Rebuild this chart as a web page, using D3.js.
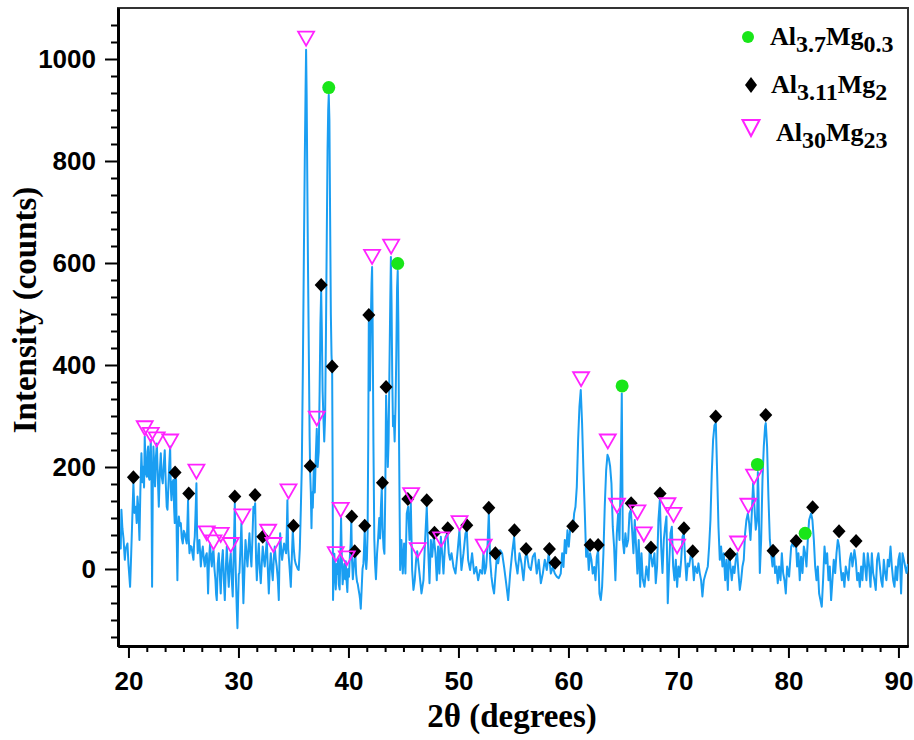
<!DOCTYPE html>
<html>
<head>
<meta charset="utf-8">
<script src="https://cdn.jsdelivr.net/npm/d3@7"></script>
<style>
  body { margin: 0; background: #fff; }
  svg { display: block; }
</style>
</head>
<body>
<svg id="chart" width="914" height="740"></svg>
<script>
// XRD scan, [2θ (deg), intensity (counts)]
const scanLow = [
  [19.05,-30],[19.1,20],[19.2,60],[19.3,40],[19.36,116],[19.45,80],[19.55,60],[19.67,18],[19.75,40],[19.91,50],[20.0,10],[20.15,-35],[20.25,30],[20.35,100],[20.45,168],[20.55,110],[20.67,122],[20.75,90],[20.82,142],[20.9,120],[21.0,57],[21.08,150],[21.18,227],[21.27,170],[21.36,201],[21.42,160],[21.48,260],[21.57,190],[21.67,181],[21.73,230],[21.79,240],[21.85,180],[21.91,175],[21.97,220],[22.03,253],[22.09,180],[22.15,-35],[22.21,150],[22.27,240],[22.35,200],[22.42,162],[22.5,220],[22.58,246],[22.67,180],[22.76,122],[22.85,190],[22.94,227],[23.03,180],[23.12,168],[23.2,200],[23.3,233],[23.39,170],[23.48,122],[23.55,116],[23.61,150],[23.7,200],[23.79,240],[23.85,160],[23.91,135],[24.0,170],[24.09,175],[24.15,120],[24.21,90],[24.27,180],[24.33,175],[24.39,60],[24.45,-22],[24.52,80],[24.58,103],[24.67,85],[24.76,90],[24.85,60],[24.94,50],[25.03,75],[25.12,70],[25.2,60],[25.3,50],[25.36,90],[25.42,135],[25.48,60],[25.55,31],[25.64,45],[25.73,44],[25.82,30],[25.91,18],[25.97,50],[26.03,63],[26.1,110],[26.18,168],[26.24,70],[26.3,31],[26.38,50],[26.45,57],[26.52,30],[26.58,5],[26.67,30],[26.76,44],[26.85,20],[26.94,5],[27.03,25],[27.12,31],[27.18,0],[27.24,-48],[27.33,20],[27.42,50],[27.5,20],[27.58,5],[27.65,30],[27.73,37],[27.82,0],[27.91,-22],[27.97,-50],[28.03,-61],[28.12,10],[28.21,31],[28.3,-10],[28.39,-48],[28.48,10],[28.58,37],[28.67,-20],[28.76,-61],[28.85,0],[28.94,44],[29.03,0],[29.12,-35],[29.21,10],[29.3,31],[29.39,-20],[29.48,-54],[29.57,30],[29.67,129],[29.73,20],[29.79,-35],[29.85,-80],[29.91,-116],[29.97,-60],[30.03,-10],[30.09,-8],[30.18,40],[30.27,90],[30.36,10],[30.45,-67],[30.55,0],[30.64,57],[30.73,30],[30.82,5],[30.91,40],[31.0,70],[31.09,30],[31.18,5],[31.27,60],[31.36,122],[31.44,110],[31.52,129],[31.6,20],[31.67,-22],[31.76,20],[31.85,50],[31.94,0],[32.03,-28],[32.12,10],[32.21,44],[32.3,20],[32.39,5],[32.48,30],[32.58,57],[32.67,0],[32.76,-48],[32.85,0],[32.94,31],[33.03,0],[33.12,-22],[33.21,20],[33.3,44],[33.39,20],[33.48,5],[33.58,-20],[33.67,-61],[33.73,20],[33.79,70],[33.88,40],[33.97,18],[34.06,35],[34.15,50],[34.24,40],[34.33,31],[34.4,80],[34.45,135],[34.52,40],[34.64,5],[34.76,-35],[34.85,20],[34.94,76],[35.03,40],[35.12,18],[35.21,10],[35.3,5],[35.39,0],[35.48,-2],[35.58,40],[35.67,116]
];
const scanMid = [
  [35.76,200],[35.85,380],[35.95,620],[36.03,800],[36.1,935],[36.15,1018],[36.2,930],[36.26,760],[36.32,600],[36.4,420],[36.47,260],[36.52,190],[36.58,150],[36.64,80],[36.7,150],[36.76,120],[36.85,200],[36.94,150],[37.03,220],[37.12,275],[37.2,200],[37.3,230],[37.38,350],[37.45,480],[37.52,545],[37.58,470],[37.65,350],[37.72,300],[37.8,250],[37.88,300],[37.95,450],[38.03,650],[38.1,820],[38.16,900],[38.21,930],[38.27,880],[38.33,700],[38.4,500],[38.46,420],[38.52,385],[38.56,200],[38.6,-61],[38.66,0],[38.72,30],[38.8,-20],[38.85,-40],[38.92,10],[39.0,-10],[39.06,20],[39.12,-30],[39.2,-40],[39.27,30],[39.33,100],[39.4,20],[39.47,-30],[39.55,-10],[39.62,10],[39.7,-20],[39.76,15],[39.82,-20],[39.9,-45],[39.97,0],[40.05,-15],[40.12,20],[40.2,50],[40.26,98],[40.32,20],[40.4,-20],[40.47,0],[40.55,20],[40.62,35],[40.7,-10],[40.78,-25],[40.85,-30],[40.92,-40],[41.0,-50],[41.06,-60],[41.12,-78],[41.2,-40],[41.28,0],[41.36,10],[41.42,40],[41.48,78],[41.55,20],[41.62,0],[41.68,20],[41.74,70],[41.8,250],[41.85,485],[41.9,400],[41.96,350],[42.03,480],[42.1,560],[42.15,592],[42.2,480],[42.27,250],[42.35,60],[42.42,10],[42.5,-20],[42.6,30],[42.7,60],[42.8,100],[42.88,60],[42.95,120],[43.03,160],[43.1,80],[43.2,40],[43.27,30],[43.35,150],[43.42,340],[43.5,280],[43.58,200],[43.65,250],[43.72,380],[43.8,520],[43.86,612],[43.92,520],[43.98,380],[44.05,280],[44.12,300],[44.2,250],[44.28,320],[44.35,420],[44.42,550],[44.48,585],[44.54,480],[44.6,250],[44.66,100],[44.7,-2],[44.82,57],[44.94,-9],[45.06,50],[45.18,-9],[45.3,109],[45.43,122],[45.55,57],[45.67,129],[45.79,-2],[45.91,-41],[46.03,-22],[46.15,18],[46.25,35],[46.33,18],[46.46,-9],[46.64,-48],[46.82,-22],[46.97,57],[47.12,122],[47.24,44],[47.37,-28],[47.49,57],[47.61,24],[47.76,63],[47.91,31],[48.03,-22],[48.15,44],[48.27,-9],[48.4,63],[48.52,31],[48.64,-9],[48.82,63],[49.0,70],[49.12,31],[49.24,18],[49.37,31],[49.55,4],[49.73,-9],[49.91,31],[50.09,76],[50.27,-2],[50.46,31],[50.64,70],[50.76,76],[50.88,18],[51.06,-2],[51.24,31],[51.43,-9],[51.61,4],[51.79,-22],[51.97,-2],[52.15,-9],[52.27,31],[52.4,-9],[52.52,4],[52.64,44],[52.76,109],[52.88,18],[53.0,-15],[53.12,-35],[53.24,-48],[53.37,-9],[53.49,24],[53.61,11],[53.79,37],[53.97,31],[54.15,4],[54.34,-28],[54.52,-61],[54.7,-9],[54.88,31],[55.06,63],[55.18,18],[55.37,-9],[55.55,31],[55.73,11],[55.91,-22],[56.09,24],[56.21,31],[56.4,4],[56.58,-2],[56.76,24],[56.94,31],[57.12,-9],[57.3,18],[57.49,-28],[57.67,-9],[57.85,18],[58.03,-2],[58.21,31],[58.4,-9],[58.58,4],[58.76,-9],[58.94,-15],[59.12,-18],[59.3,-9],[59.43,31],[59.55,4],[59.67,57],[59.79,31],[59.91,76],[60.03,44],[60.15,76],[60.27,83],[60.4,76],[60.52,109],[60.64,122],[60.76,161],[60.88,253],[61.0,318],[61.12,351],[61.24,286],[61.37,188],[61.49,109],[61.61,24],[61.73,44],[61.85,-2],[61.97,31],[62.09,18],[62.21,-9],[62.34,4],[62.46,-22],[62.58,24],[62.7,37],[62.82,-48],[62.94,-61],[63.06,-35],[63.18,31],[63.3,122],[63.43,194],[63.55,224],[63.67,217],[63.79,201],[63.91,168],[64.03,83],[64.15,44],[64.27,-22],[64.4,70],[64.52,109],[64.64,57],[64.76,188],[64.85,344],[64.94,57],[65.06,31],[65.18,70],[65.3,44],[65.43,57],[65.55,109],[65.67,116],[65.79,76],[65.91,31],[66.03,96],[66.15,44],[66.27,-9],[66.39,57],[66.52,-35],[66.64,31]
];
const scanHigh = [
  [66.76,-20],[66.91,-35],[67.09,5],[67.28,-22],[67.4,44],[67.52,24],[67.64,5],[67.82,31],[67.94,-28],[68.06,5],[68.18,96],[68.31,135],[68.43,44],[68.55,-8],[68.67,57],[68.79,83],[68.91,103],[69.03,-67],[69.15,5],[69.28,70],[69.4,83],[69.52,5],[69.64,-22],[69.76,18],[69.88,-35],[70.0,5],[70.12,-15],[70.25,18],[70.37,63],[70.49,70],[70.61,18],[70.73,-22],[70.85,11],[70.97,5],[71.15,31],[71.28,18],[71.4,-22],[71.52,5],[71.7,-8],[71.82,11],[71.94,-8],[72.06,-22],[72.18,-54],[72.31,-22],[72.49,-8],[72.67,5],[72.79,44],[72.91,96],[73.03,188],[73.15,253],[73.28,282],[73.4,286],[73.52,188],[73.64,83],[73.76,18],[73.88,44],[74.0,5],[74.12,31],[74.25,-22],[74.37,18],[74.49,-41],[74.61,31],[74.73,5],[74.85,-22],[74.97,5],[75.09,-8],[75.21,18],[75.34,31],[75.46,-8],[75.58,-41],[75.7,-22],[75.82,5],[75.94,18],[76.06,70],[76.18,96],[76.31,109],[76.43,90],[76.55,57],[76.67,109],[76.79,168],[76.91,122],[77.03,77],[77.15,96],[77.22,190],[77.28,150],[77.4,-8],[77.52,57],[77.64,175],[77.76,240],[77.88,280],[77.94,286],[78.06,240],[78.18,142],[78.31,57],[78.43,31],[78.55,5],[78.67,37],[78.79,-8],[78.91,5],[79.03,-28],[79.15,5],[79.28,-22],[79.4,31],[79.52,-8],[79.64,-22],[79.76,-48],[79.88,5],[80.06,-15],[80.25,44],[80.37,50],[80.49,44],[80.67,57],[80.79,5],[80.91,31],[81.03,-22],[81.15,24],[81.28,-8],[81.4,44],[81.52,31],[81.64,5],[81.76,57],[81.88,96],[82.06,109],[82.18,96],[82.31,57],[82.43,5],[82.55,-22],[82.67,5],[82.79,-48],[82.91,-61],[83.03,-74],[83.15,-22],[83.28,44],[83.4,11],[83.52,31],[83.64,-22],[83.76,5],[83.88,-61],[84.0,-22],[84.12,18],[84.25,-8],[84.37,31],[84.49,57],[84.61,44],[84.73,5],[84.85,-22],[84.97,-8],[85.09,-35],[85.21,5],[85.34,-8],[85.46,-22],[85.58,18],[85.7,31],[85.82,5],[86.0,37],[86.12,18],[86.25,-22],[86.37,-8],[86.49,-35],[86.61,5],[86.73,-22],[86.85,31],[86.97,5],[87.09,-22],[87.21,31],[87.34,5],[87.46,-35],[87.58,31],[87.7,-8],[87.82,-22],[87.94,-41],[88.06,18],[88.18,31],[88.31,5],[88.43,-22],[88.55,-35],[88.67,18],[88.79,-8],[88.91,-22],[89.03,18],[89.15,5],[89.28,44],[89.4,5],[89.52,-22],[89.64,-35],[89.76,5],[89.88,-22],[90.0,18],[90.12,31],[90.24,-48],[90.37,31],[90.49,18],[90.61,5],[90.73,-8],[90.87,10]
];

// Phase reflections, [2θ, marker height]
const phaseAl37Mg03 = [[38.21,944],[44.48,599],[64.88,359],[77.18,205],[81.52,70]];
const phaseAl311Mg2 = [
  [20.45,180],[24.24,189],[25.48,148],[29.67,142],[31.51,145],[32.21,63],[35.0,85],[36.52,202],
  [37.52,557],[38.52,397],[40.3,103],[40.57,35],[41.48,85],[41.85,498],[43.09,169],[43.42,357],
  [45.4,137],[47.12,135],[47.82,71],[49.03,80],[50.76,86],[52.76,120],[53.36,31],[55.09,76],
  [56.15,39],[58.27,39],[58.79,12],[60.39,84],[61.97,47],[62.7,47],[65.7,129],[67.5,42],
  [68.33,148],[70.5,80],[71.3,35],[73.39,299],[74.7,29],[77.94,302],[78.6,36],[80.7,55],
  [82.2,121],[84.6,74],[86.15,55]
];
const phaseAl30Mg23 = [
  [21.48,276],[22.03,263],[22.57,254],[23.79,250],[26.18,191],[27.12,70],[27.73,52],[28.39,67],
  [29.3,47],[30.36,103],[32.7,73],[33.18,47],[34.55,152],[36.15,1040],[37.12,295],[38.85,29],
  [39.3,116],[39.85,21],[42.15,612],[43.88,632],[45.7,145],[46.3,37],[48.43,58],[50.1,90],
  [52.3,44],[61.15,372],[63.58,250],[64.42,124],[66.27,111],[66.85,68],[69.0,125],[69.55,106],
  [69.88,44],[75.42,50],[76.36,124],[76.88,181]
];

const xTicks = [20, 30, 40, 50, 60, 70, 80, 90];
const yTicks = [0, 200, 400, 600, 800, 1000];
const xTitle = "2θ (degrees)";
const yTitle = "Intensity (counts)";
const legendItems = [
  { key: "circle",   parts: [["Al",0],["3.7",1],["Mg",0],["0.3",1]] },
  { key: "diamond",  parts: [["Al",0],["3.11",1],["Mg",0],["2",1]] },
  { key: "triangle", parts: [["Al",0],["30",1],["Mg",0],["23",1]] }
];

const svg = d3.select("#chart");
const L = 118, R = 908, T = 8, B = 646;
const x = d3.scaleLinear().domain([19.05, 90.87]).range([L, R]);
const y = d3.scaleLinear().domain([-151, 1100]).range([B, T]);

const lineBlue = "#1a9ef2", magenta = "#ff22ff", green = "#19e619";
const sans = "'Liberation Sans', Arial, sans-serif";
const serif = "'Liberation Serif', 'Times New Roman', serif";

svg.append("defs").append("clipPath").attr("id", "plotClip")
  .append("rect").attr("x", L).attr("y", T).attr("width", R - L).attr("height", B - T);

// frame (top/right)
svg.append("rect").attr("x", L).attr("y", T).attr("width", R - L).attr("height", B - T)
  .attr("fill", "none").attr("stroke", "#333").attr("stroke-width", 2);

// diffraction pattern
const scan = scanLow.concat(scanMid, scanHigh);
svg.append("path")
  .datum(scan)
  .attr("clip-path", "url(#plotClip)")
  .attr("fill", "none")
  .attr("stroke", lineBlue)
  .attr("stroke-width", 2)
  .attr("stroke-linejoin", "round")
  .attr("d", d3.line().x(d => x(d[0])).y(d => y(d[1])));

// axes
const yMinor = d3.range(-4, 34).map(i => i * 200 / 6).filter(v => v > -151 && v < 1100 && !yTicks.includes(Math.round(v)));
const xMinor = d3.range(12, 56).map(i => i * 10 / 6).filter(v => v > 19.05 && v < 90.87 && Math.abs(v / 10 - Math.round(v / 10)) > 1e-6);

function styleAxis(g, width) {
  g.select(".domain").attr("stroke", "#000").attr("stroke-width", width);
  g.selectAll(".tick line").attr("stroke", "#000").attr("stroke-width", 2);
  g.selectAll("text").attr("fill", "#000").attr("font-family", sans)
    .attr("font-weight", "bold").attr("font-size", 26);
}

const gyMinor = svg.append("g").attr("transform", `translate(${L},0)`)
  .call(d3.axisLeft(y).tickValues(yMinor).tickSize(7).tickSizeOuter(0).tickFormat(""));
styleAxis(gyMinor, 3);
const gy = svg.append("g").attr("transform", `translate(${L},0)`)
  .call(d3.axisLeft(y).tickValues(yTicks).tickSize(13).tickSizeOuter(0).tickPadding(9).tickFormat(d3.format("d")));
styleAxis(gy, 3);

const gxMinor = svg.append("g").attr("transform", `translate(0,${B})`)
  .call(d3.axisBottom(x).tickValues(xMinor).tickSize(6).tickSizeOuter(0).tickFormat(""));
styleAxis(gxMinor, 3);
const gx = svg.append("g").attr("transform", `translate(0,${B})`)
  .call(d3.axisBottom(x).tickValues(xTicks).tickSize(12).tickSizeOuter(0).tickPadding(14).tickFormat(d3.format("d")));
styleAxis(gx, 3);

// axis titles
svg.append("text").attr("x", 512).attr("y", 727).attr("text-anchor", "middle")
  .attr("font-family", serif).attr("font-weight", "bold").attr("font-size", 33).text(xTitle);
svg.append("text").attr("transform", "translate(36,310) rotate(-90)").attr("text-anchor", "middle")
  .attr("font-family", serif).attr("font-weight", "bold").attr("font-size", 33).text(yTitle);

// marker shapes
const triPath = (w, h) => `M${-w/2},${-h/2}L${w/2},${-h/2}L0,${h/2}Z`;
const diaPath = (w, h) => `M0,${-h/2}L${w/2},0L0,${h/2}L${-w/2},0Z`;

const marks = svg.append("g");
marks.selectAll(".dia").data(phaseAl311Mg2).join("path")
  .attr("transform", d => `translate(${x(d[0])},${y(d[1])})`)
  .attr("d", diaPath(13, 14)).attr("fill", "#000");
marks.selectAll(".tri").data(phaseAl30Mg23).join("path")
  .attr("transform", d => `translate(${x(d[0])},${y(d[1])})`)
  .attr("d", triPath(16, 14)).attr("fill", "none").attr("stroke", magenta).attr("stroke-width", 1.8);
marks.selectAll(".dot").data(phaseAl37Mg03).join("circle")
  .attr("cx", d => x(d[0])).attr("cy", d => y(d[1])).attr("r", 6.5).attr("fill", green);

// legend
const legendRows = [
  { mx: 748, my: 37, tx: 770, ty: 45 },
  { mx: 751, my: 85, tx: 771, ty: 93 },
  { mx: 751, my: 128, tx: 776, ty: 141 }
];
legendItems.forEach((item, i) => {
  const r = legendRows[i];
  if (item.key === "circle") {
    svg.append("circle").attr("cx", r.mx).attr("cy", r.my).attr("r", 6).attr("fill", green);
  } else if (item.key === "diamond") {
    svg.append("path").attr("transform", `translate(${r.mx},${r.my})`).attr("d", diaPath(12, 16)).attr("fill", "#000");
  } else {
    svg.append("path").attr("transform", `translate(${r.mx},${r.my})`).attr("d", triPath(17, 16))
      .attr("fill", "none").attr("stroke", magenta).attr("stroke-width", 2);
  }
  const t = svg.append("text").attr("x", r.tx).attr("y", r.ty)
    .attr("font-family", serif).attr("font-weight", "bold").attr("font-size", 26).attr("fill", "#000");
  let lvl = 0;
  item.parts.forEach(([s, sub]) => {
    const ts = t.append("tspan").text(s);
    if (sub !== lvl) ts.attr("dy", sub ? 7 : -7);
    if (sub) ts.attr("font-size", 24);
    lvl = sub;
  });
});
</script>
</body>
</html>
